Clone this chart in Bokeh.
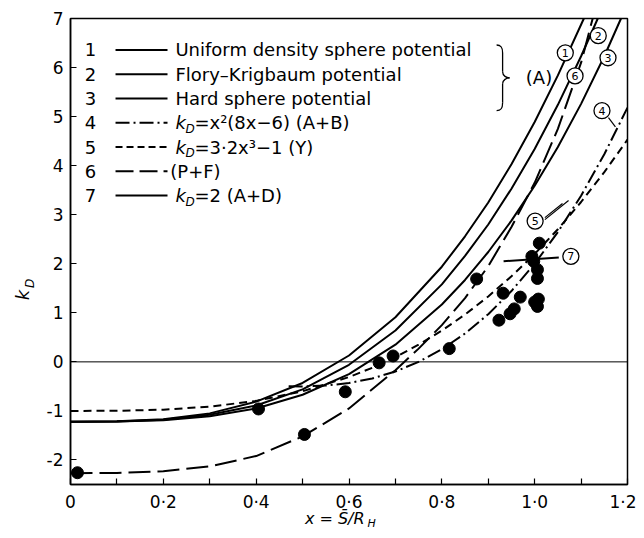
import math
from bokeh.plotting import figure
from bokeh.models import Range1d, FixedTicker, Label, Span
from bokeh.core.properties import value
from bokeh.embed import file_html
from bokeh.resources import INLINE

# ---------------- data ----------------
c1_x = [0, 0.1, 0.2, 0.3, 0.4, 0.5, 0.6, 0.7, 0.8, 0.85, 0.9, 0.95, 1.0, 1.05, 1.106]
c1_y = [-1.22, -1.21, -1.17, -1.05, -0.81, -0.43, 0.13, 0.91, 1.94, 2.56, 3.25, 4.03, 4.89, 5.84, 7.0]

c2_x = [0, 0.1, 0.2, 0.3, 0.4, 0.5, 0.6, 0.7, 0.8, 0.85, 0.9, 0.95, 1.0, 1.05, 1.1, 1.136]
c2_y = [-1.22, -1.215, -1.18, -1.08, -0.89, -0.56, -0.06, 0.64, 1.58, 2.16, 2.80, 3.53, 4.34, 5.24, 6.23, 7.0]

c3_x = [0, 0.1, 0.2, 0.3, 0.4, 0.5, 0.6, 0.7, 0.8, 0.85, 0.9, 0.95, 1.0, 1.05, 1.1, 1.15, 1.186]
c3_y = [-1.22, -1.217, -1.19, -1.11, -0.95, -0.67, -0.25, 0.35, 1.17, 1.67, 2.24, 2.88, 3.59, 4.38, 5.26, 6.23, 7.0]

c4_x = [0.47, 0.5, 0.55, 0.6, 0.65, 0.7, 0.75, 0.8, 0.85, 0.9, 0.95, 1.0, 1.05, 1.1, 1.15, 1.2]
c4_y = [-0.495, -0.5, -0.484, -0.432, -0.338, -0.196, 0.0, 0.256, 0.578, 0.972, 1.444, 2.0, 2.646, 3.388, 4.232, 5.184]

c5_x = [0, 0.1, 0.2, 0.3, 0.4, 0.5, 0.6, 0.65, 0.7, 0.75, 0.8, 0.85, 0.9, 0.95, 1.0, 1.05, 1.1, 1.15, 1.2]
c5_y = [-1.0, -0.997, -0.974, -0.914, -0.795, -0.6, -0.309, -0.121, 0.098, 0.35, 0.638, 0.965, 1.333, 1.744, 2.2, 2.704, 3.259, 3.867, 4.53]

c6_x = [0, 0.1, 0.2, 0.3, 0.4, 0.5, 0.6, 0.7, 0.75, 0.8, 0.85, 0.9, 0.95, 1.0, 1.05, 1.1, 1.125]
c6_y = [-2.27, -2.265, -2.23, -2.13, -1.92, -1.52, -0.95, -0.17, 0.27, 0.75, 1.3, 1.95, 2.75, 3.65, 4.75, 6.1, 7.0]

c7_x = [0.933, 1.052]
c7_y = [2.05, 2.13]

pts_x = [0.015, 0.405, 0.504, 0.592, 0.665, 0.695, 0.816, 0.875, 0.923, 0.932, 0.947,
         0.956, 0.969, 0.994, 1.0, 1.006, 1.006, 1.006, 1.01, 0.998, 1.008]
pts_y = [-2.26, -0.96, -1.48, -0.61, -0.02, 0.12, 0.27, 1.69, 0.85, 1.4, 0.98,
         1.08, 1.32, 2.15, 1.22, 1.13, 1.7, 1.88, 2.42, 2.05, 1.28]

leg_nums = ["1", "2", "3", "4", "5", "6", "7"]
leg_texts = ["Uniform density sphere potential", "Flory\u2013Krigbaum potential",
             "Hard sphere potential", "=x\u00b2(8x\u22126) (A+B)", "=3\u00b72x\u00b3\u22121 (Y)",
             "(P+F)", "=2 (A+D)"]

x_ticks = [0, 0.1, 0.2, 0.3, 0.4, 0.5, 0.6, 0.7, 0.8, 0.9, 1.0, 1.1, 1.2]
x_tick_labels = ["0", "", "0\u00b72", "", "0\u00b74", "", "0\u00b76", "", "0\u00b78", "", "1\u00b70", "", "1\u00b72"]
y_ticks = [-2, -1, 0, 1, 2, 3, 4, 5, 6, 7]
y_tick_labels = ["-2", "-1", "0", "1", "2", "3", "4", "5", "6", "7"]

circ_labels = ["1", "2", "3", "6", "4", "5", "7"]
circ_x = [1.066, 1.137, 1.158, 1.087, 1.145, 1.001, 1.078]
circ_y = [6.30, 6.65, 6.20, 5.83, 5.12, 2.87, 2.15]

# ---------------- figure ----------------
FONT = "DejaVu Sans"
FS = "18px"
p = figure(width=636, height=533, output_backend="svg", toolbar_location=None,
           x_range=Range1d(0, 1.2), y_range=Range1d(-2.5, 7),
           min_border_left=70, min_border_right=9, min_border_top=18, min_border_bottom=46)
p.xgrid.visible = False
p.ygrid.visible = False
p.outline_line_color = "black"
p.outline_line_width = 1.5
p.background_fill_color = "white"
p.border_fill_color = "white"

for ax in (p.xaxis, p.yaxis):
    ax.axis_line_color = "black"
    ax.axis_line_width = 1.5
    ax.major_tick_in = 6
    ax.major_tick_out = 0
    ax.major_tick_line_color = "black"
    ax.major_tick_line_width = 1.2
    ax.minor_tick_line_color = None
    ax.major_label_text_font = FONT
    ax.major_label_text_font_size = "17px"
    ax.major_label_text_color = "black"
    ax.major_label_standoff = 7

p.xaxis.ticker = FixedTicker(ticks=x_ticks)
p.xaxis.major_label_overrides = {t: l for t, l in zip(x_ticks, x_tick_labels)}
p.yaxis.ticker = FixedTicker(ticks=y_ticks)
p.yaxis.major_label_overrides = {t: l for t, l in zip(y_ticks, y_tick_labels)}

p.add_layout(Span(location=0, dimension="width", line_color="black", line_width=1))

LW = 2
p.line(c1_x, c1_y, line_color="black", line_width=LW)
p.line(c2_x, c2_y, line_color="black", line_width=LW)
p.line(c3_x, c3_y, line_color="black", line_width=LW)
p.line(c4_x, c4_y, line_color="black", line_width=LW, line_dash="14 4 2 4")
p.line(c5_x, c5_y, line_color="black", line_width=LW, line_dash="8 5")
p.line(c6_x, c6_y, line_color="black", line_width=LW, line_dash="22 7")
p.line(c7_x, c7_y, line_color="black", line_width=LW)

p.scatter(pts_x, pts_y, size=12, fill_color="black", line_color="black")

# ---------------- in-plot legend ----------------
row_top, row_step = 6.36, 0.495
num_x, samp_x0, samp_x1, txt_x = 0.043, 0.097, 0.209, 0.226
dashes = ["solid", "solid", "solid", "14 4 2 4", "7 4", "18 6", "solid"]
rows_y = [row_top - row_step * i for i in range(len(leg_nums))]
p.text(x=[num_x] * 7, y=rows_y, text=leg_nums, text_font=value(FONT), text_font_size=FS,
       text_align="center", text_baseline="middle")
for i, yy in enumerate(rows_y):
    p.line([samp_x0, samp_x1], [yy, yy], line_color="black", line_width=LW, line_dash=dashes[i])

sub_rows = [3, 4, 6]
plain_rows = [0, 1, 2, 5]
p.text(x=[txt_x if i != 5 else samp_x1 + 0.006 for i in plain_rows], y=[rows_y[i] for i in plain_rows],
       text=[leg_texts[i] for i in plain_rows], text_font=value(FONT), text_font_size=FS,
       text_align="left", text_baseline="middle")
p.text(x=[txt_x] * 3, y=[rows_y[i] for i in sub_rows], text=["k"] * 3, text_font=value(FONT),
       text_font_size=FS, text_font_style="italic", text_align="left", text_baseline="middle")
p.text(x=[txt_x] * 3, y=[rows_y[i] for i in sub_rows], text=["D"] * 3, text_font=value(FONT),
       text_font_size="12px", text_font_style="italic", text_align="left", text_baseline="middle",
       x_offset=10, y_offset=6)
p.text(x=[txt_x] * 3, y=[rows_y[i] for i in sub_rows], text=[leg_texts[i] for i in sub_rows],
       text_font=value(FONT), text_font_size=FS, text_align="left", text_baseline="middle",
       x_offset=19)

# brace "}" for rows 1-3 and "(A)"
px_x, px_y = 1.2 / 557.0, 9.5 / 466.0
bx, ytop, ybot = 0.918, rows_y[0] + 0.1, rows_y[2] - 0.25
ym = (ytop + ybot) / 2
xm, xt = bx + 6 * px_x, bx + 13 * px_x
segs = [
    (bx, ytop, xm, ytop - 8 * px_y, bx + 5 * px_x, ytop, xm, ytop - 3 * px_y),
    (xm, ym + 6 * px_y, xt, ym, xm, ym + 2 * px_y, xm + 4 * px_x, ym),
    (xt, ym, xm, ym - 6 * px_y, xm + 4 * px_x, ym, xm, ym - 2 * px_y),
    (xm, ybot + 8 * px_y, bx, ybot, xm, ybot + 3 * px_y, bx + 5 * px_x, ybot),
]
p.bezier(x0=[s[0] for s in segs], y0=[s[1] for s in segs], x1=[s[2] for s in segs], y1=[s[3] for s in segs],
         cx0=[s[4] for s in segs], cy0=[s[5] for s in segs], cx1=[s[6] for s in segs], cy1=[s[7] for s in segs],
         line_color="black", line_width=1.3)
p.segment(x0=[xm, xm], y0=[ytop - 8 * px_y, ym - 6 * px_y], x1=[xm, xm], y1=[ym + 6 * px_y, ybot + 8 * px_y],
          line_color="black", line_width=1.3)
p.text(x=[xt + 0.035], y=[ym], text=["(A)"], text_font=value(FONT), text_font_size=FS,
       text_align="left", text_baseline="middle")

# leader lines for circled labels 4 and 5
p.segment(x0=[1.159, 1.022, 1.022], y0=[4.98, 2.94, 2.90], x1=[1.174, 1.06, 1.073], y1=[4.79, 3.23, 3.29],
          line_color="black", line_width=1.2)

# circled curve labels
p.scatter(circ_x, circ_y, size=16, fill_color="white", line_color="black", line_width=1.3)
p.text(x=circ_x, y=circ_y, text=circ_labels, text_font=value(FONT), text_font_size="11px",
       text_align="center", text_baseline="middle")

# ---------------- axis titles (in side panels so that they are not clipped) ----------------
p.add_layout(Label(x=-0.103, y=1.36, text="k", angle=math.pi / 2, text_font=FONT, text_font_size="18px",
                   text_color="black", text_font_style="italic", text_align="center",
                   text_baseline="middle"), "left")
p.add_layout(Label(x=-0.087, y=1.60, text="D", angle=math.pi / 2, text_font=FONT, text_font_size="12px",
                   text_color="black", text_font_style="italic", text_align="center",
                   text_baseline="middle"), "left")
p.add_layout(Label(x=0.505, y=-3.20, text="x = S\u0304/R", text_font=FONT, text_font_size="16px",
                   text_color="black", text_font_style="italic", text_align="left",
                   text_baseline="middle"), "below")
p.add_layout(Label(x=0.640, y=-3.30, text="H", text_font=FONT, text_font_size="11px",
                   text_color="black", text_font_style="italic", text_align="left",
                   text_baseline="middle"), "left")

open("out.html", "w").write(file_html(p, INLINE))
